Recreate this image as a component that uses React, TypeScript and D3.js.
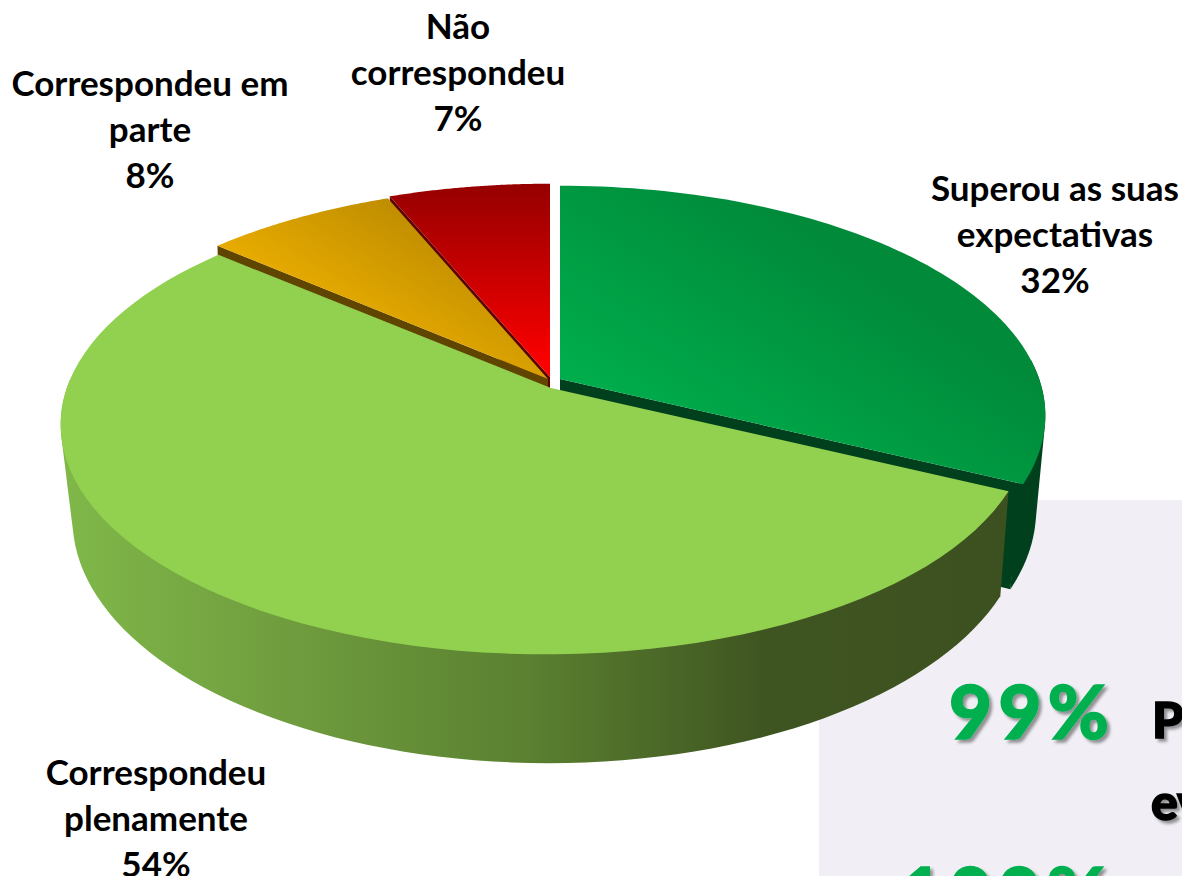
import * as d3 from "d3";

// percentages printed on the labels
const labels = ["Superou as suas expectativas", "Correspondeu plenamente", "Correspondeu em parte", "Não correspondeu"];
const percents = [32, 54, 8, 7];
// slice sizes (the picture's slices are not exactly the printed %)
const shares = [32.2, 54.2, 7.4, 6.2];

const labelLines = [
  ["Superou as suas", "expectativas", `${percents[0]}%`],
  ["Correspondeu", "plenamente", `${percents[1]}%`],
  ["Correspondeu em", "parte", `${percents[2]}%`],
  ["Não", "correspondeu", `${percents[3]}%`],
];
const labelX = [1055, 156, 150, 458];
const labelY = [189, 773, 84, 27];

const WIDTH = 1182;
const HEIGHT = 876;
const CX = 552;
const CY = 383;
const RX = 484;
const RY = 224;
const K = 0.159;
// lower rim of the disc is its own ellipse
const LOW_RX = 472;
const LOW_RY = 240;
const LOW_K = 0.131;
const LOW_DROP = 99;
const LIGHT_GAP = -0.5; // degrees

// dx: rim centre, ax: apex, lx: lower rim centre, all relative to CX
const OFFSET = [
  { dx: 8, ax: 8, lx: 8, dy: -4, sx: 0.99 },
  { dx: -7, ax: -1, lx: -3.4, dy: 5, sx: 0.988 },
  { dx: -4, ax: -4, lx: -4, dy: -4, sx: 1 },
  { dx: -2, ax: -2, lx: -2, dy: -6, sx: 1 },
];
type Off = (typeof OFFSET)[number];

const pieAngles = d3.pie<number>().sort(null)(shares);

// circle on the table top -> screen, with a bit of perspective
function project(a: number, o: Off): [number, number] {
  const u = Math.sin(a);
  const v = -Math.cos(a);
  const s = 1 / (1 - K * v);
  return [CX + o.dx + RX * o.sx * u * s, CY + o.dy + RY * v * s];
}

// same angle on the lower rim
function lower(a: number, o: Off): [number, number] {
  const u = Math.sin(a);
  const v = -Math.cos(a);
  const s = 1 / (1 - LOW_K * v);
  return [CX + o.lx + LOW_RX * u * s, CY + o.dy + LOW_DROP + LOW_RY * v * s];
}

const line = d3.line();

function rim(a0: number, a1: number, f: (a: number) => [number, number]) {
  const n = 80;
  return d3.range(n + 1).map((i) => f(a0 + ((a1 - a0) * i) / n));
}

const deg = Math.PI / 180;

function topPath(i: number, a0: number, a1: number) {
  const o = OFFSET[i];
  const apex: [number, number] = [CX + o.ax, CY + o.dy];
  return line([apex, ...rim(a0, a1, (a) => project(a, o))]) + "Z";
}

// outer wall as the hull of both rims, top face is painted over it
function wallPath(i: number, a0: number, a1: number) {
  const o = OFFSET[i];
  const pts = [...rim(a0, a1, (a) => project(a, o)), ...rim(a0, a1, (a) => lower(a, o))];
  return line(d3.polygonHull(pts)!) + "Z";
}

// inner cut face below a slice edge
function cutPath(i: number, a: number, depth: number) {
  const o = OFFSET[i];
  const apex: [number, number] = [CX + o.ax, CY + o.dy];
  return line([apex, project(a, o), lower(a, o), [apex[0], apex[1] + depth]]) + "Z";
}

export default function App() {
  const [green, light, orange, red] = pieAngles;
  const lightStart = light.startAngle + LIGHT_GAP * deg;
  return (
    <svg
      width={WIDTH}
      height={HEIGHT}
      style={{ position: "absolute", left: 0, top: 0, background: "#fff" }}
    >
      <defs>
        <linearGradient id="gGreen" gradientUnits="userSpaceOnUse" x1={640} y1={420} x2={780} y2={210}>
          <stop offset="0" stopColor="#00ad4c" />
          <stop offset="1" stopColor="#008a3a" />
        </linearGradient>
        <linearGradient id="gOrange" gradientUnits="userSpaceOnUse" x1={340} y1={310} x2={410} y2={190}>
          <stop offset="0" stopColor="#e6aa00" />
          <stop offset="1" stopColor="#b98900" />
        </linearGradient>
        <linearGradient id="gRed" gradientUnits="userSpaceOnUse" x1={0} y1={370} x2={0} y2={185}>
          <stop offset="0" stopColor="#ff0000" />
          <stop offset="1" stopColor="#960000" />
        </linearGradient>
        <linearGradient id="gWall" gradientUnits="userSpaceOnUse" x1={60} y1={0} x2={1000} y2={0}>
          <stop offset="0" stopColor="#80b849" />
          <stop offset="0.25" stopColor="#6f9c3e" />
          <stop offset="0.5" stopColor="#5a8030" />
          <stop offset="0.75" stopColor="#3f5521" />
          <stop offset="1" stopColor="#3d5120" />
        </linearGradient>
        <filter id="shadow" x="-10%" y="-10%" width="120%" height="130%">
          <feDropShadow dx={3} dy={3} stdDeviation={1.5} floodColor="#000" floodOpacity={0.4} />
        </filter>
      </defs>

      <rect x={819} y={500} width={363} height={376} fill="#f1eff5" />

      {/* green slice */}
      <path d={wallPath(0, 85 * deg, green.endAngle)} fill="#00401c" />
      <path d={cutPath(0, green.endAngle, 100)} fill="#00401c" />
      <path d={topPath(0, green.startAngle, green.endAngle)} fill="url(#gGreen)" />

      {/* red */}
      <path d={cutPath(3, red.startAngle, 20)} fill="#5c0000" />
      <path d={topPath(3, red.startAngle, red.endAngle)} fill="url(#gRed)" />

      {/* orange */}
      <path d={cutPath(2, orange.startAngle, 30)} fill="#5f4500" />
      <path d={topPath(2, orange.startAngle, orange.endAngle)} fill="url(#gOrange)" />

      {/* light green last, it sits in front */}
      <path d={wallPath(1, lightStart, 272 * deg)} fill="url(#gWall)" />
      <path d={topPath(1, lightStart, light.endAngle)} fill="#92d050" />

      <g fontFamily="Lato, sans-serif" fontWeight={700} fontSize={35} fill="#000" textAnchor="middle">
        {labelLines.map((lines, i) => (
          <text key={labels[i]} x={labelX[i]} y={labelY[i]}>
            {lines.map((t, j) => (
              <tspan key={j} x={labelX[i]} y={labelY[i] + j * 46} dy="0.35em">
                {t}
              </tspan>
            ))}
          </text>
        ))}
      </g>

      <g fontFamily="Lato, sans-serif" fontWeight={900} filter="url(#shadow)">
        <text x={949} y={739} fontSize={74} letterSpacing={6.5} stroke="#00b050" strokeWidth={1.5} fill="#00b050">99%</text>
        <text x={1152} y={738} fontSize={50} stroke="#000" strokeWidth={1.5} fill="#000">P</text>
        <text x={1151} y={820} fontSize={50} stroke="#000" strokeWidth={1.5} fill="#000">ev</text>
        <text x={900} y={921} fontSize={74} letterSpacing={6} stroke="#00b050" strokeWidth={1.5} fill="#00b050">100%</text>
      </g>
    </svg>
  );
}
